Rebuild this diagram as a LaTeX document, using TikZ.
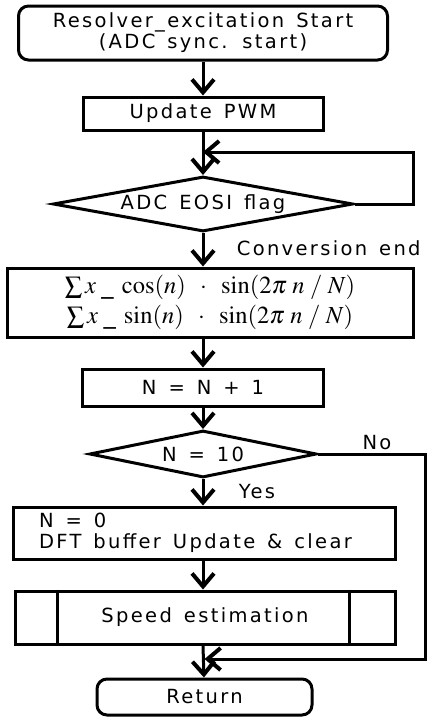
\documentclass[tikz,border=0pt]{standalone}
\usepackage{mathptmx}
\usepackage{fontspec}
\setmainfont[LetterSpace=12,WordSpace=1.4]{DejaVu Sans}
\usetikzlibrary{shapes.geometric,arrows.meta}

\begin{document}
\begin{tikzpicture}[x=1pt,y=-1pt,line width=3pt,
    every node/.style={font=\fontsize{19.5}{21}\selectfont},
    flow/.style={-{Straight Barb[length=13pt,width=22pt,line width=4pt]}},
    terminal/.style={draw,rounded corners=10pt,align=center,inner sep=0pt},
    process/.style={draw,rectangle,align=center,inner sep=0pt},
    decision/.style={draw,diamond,inner sep=0pt}]
    \useasboundingbox (0,0) rectangle (429,718);

    \node[terminal,minimum width=369,minimum height=54] at (203,33) (start)
        {Resolver\_excitation Start\\(ADC sync. start)};
    \node[process,minimum width=240,minimum height=33] at (203,113.5) (pwm) {Update PWM};
    \node[decision,minimum width=300,minimum height=55,shape aspect=5.45] at (203,204) (adc) {ADC EOSI flag};
    \node[process,minimum width=406,minimum height=69,font=\fontsize{24.5}{30}\selectfont] at (210,302.5) (sum)
        {$\sum x\;\_\;\cos(n)\;\;\cdot\;\;\sin(2\pi\;n\;/\;N)$\\
         $\sum x\;\_\;\sin(n)\;\;\cdot\;\;\sin(2\pi\;n\;/\;N)$};
    \node[process,minimum width=241,minimum height=37] at (203,387.5) (inc) {N = N + 1};
    \node[decision,minimum width=227,minimum height=47,shape aspect=4.83] at (203,454) (ten) {N = 10};
    \node[process,minimum height=52,inner xsep=8pt,text width=366,align=flush left] at (204,533) (reset)
        {\hspace*{18pt}N = 0\\\hspace*{18pt}DFT buffer Update \& clear};
    \node[process,minimum width=380,minimum height=53] at (205,617.5) (speed) {Speed estimation};
    \node[terminal,minimum width=215,minimum height=36] at (204.5,697) (ret) {Return};

    % subroutine bars
    \draw ([xshift=44pt]speed.north west) -- ([xshift=44pt]speed.south west);
    \draw ([xshift=-47pt]speed.north east) -- ([xshift=-47pt]speed.south east);

    \coordinate (loop) at (413,152);
    \coordinate (skip) at (425,659);

    \draw[flow] (start) -- (start |- pwm.north);
    \draw[flow] (pwm) -- (adc);
    \draw[flow] (adc.east) -| (loop) -- (adc.north |- loop);
    \draw[flow] (adc.south) -- (adc.south |- sum.north);
    \draw[flow] (adc.south |- sum.south) -- (inc);
    \draw[flow] (inc) -- (ten);
    \draw[flow] (ten.south) -- (ten.south |- reset.north);
    \draw[flow] (ten.south |- reset.south) -- (ten.south |- speed.north);
    \draw[flow] (ten.south |- speed.south) -- (ret);
    \draw[flow] (ten.east) -| (skip) -- (ret.north |- skip);

    \node[anchor=west] at (232,248) (convlbl) {Conversion end};
    \node at (377,443) (nolbl) {No};
    \node[anchor=west] at (234,492) (yeslbl) {Yes};
\end{tikzpicture}
\end{document}
